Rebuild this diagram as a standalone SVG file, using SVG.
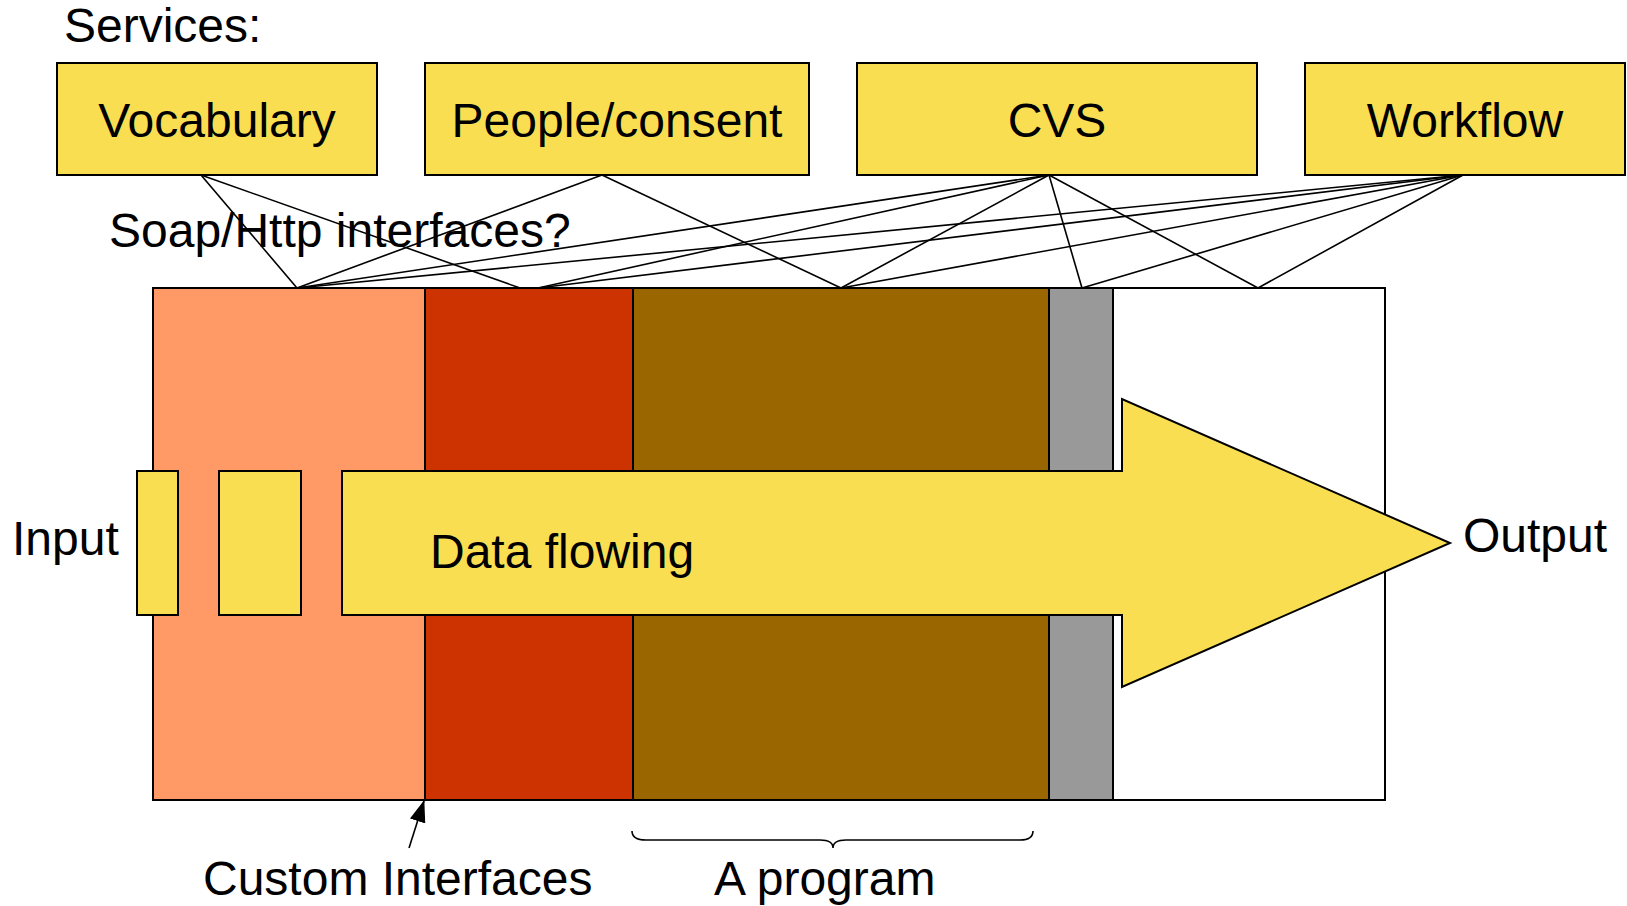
<svg xmlns="http://www.w3.org/2000/svg" width="1627" height="906" viewBox="0 0 1627 906">
<defs>
<style>
text { font-family: "Liberation Sans", Arial, sans-serif; font-size: 48px; fill: #000; }
.box { fill: #F9DE52; stroke: #000; stroke-width: 2; }
.sec { stroke: #000; stroke-width: 2; }
.conn { stroke: #000; stroke-width: 1.6; fill: none; }
.mid { text-anchor: middle; }
</style>
<marker id="ah" viewBox="0 0 22 16" refX="21" refY="8" markerWidth="22" markerHeight="16" markerUnits="userSpaceOnUse" orient="auto">
<path d="M0,0 L22,8 L0,16 z" fill="#000"/>
</marker>
</defs>
<rect width="1627" height="906" fill="#fff"/>

<text x="64" y="42">Services:</text>

<g id="vocabulary"><rect class="box" x="57" y="63" width="320" height="112"/><text class="mid" x="217" y="137">Vocabulary</text></g>
<g id="people"><rect class="box" x="425" y="63" width="384" height="112"/><text class="mid" x="617" y="137">People/consent</text></g>
<g id="cvs"><rect class="box" x="857" y="63" width="400" height="112"/><text class="mid" x="1057" y="137">CVS</text></g>
<g id="workflow"><rect class="box" x="1305" y="63" width="320" height="112"/><text class="mid" x="1465" y="137">Workflow</text></g>

<g id="sections">
<rect id="sec-orange" class="sec" x="153" y="288" width="272" height="512" fill="#FF9966"/>
<rect id="sec-red" class="sec" x="425" y="288" width="208" height="512" fill="#CC3300"/>
<rect id="sec-brown" class="sec" x="633" y="288" width="416" height="512" fill="#996600"/>
<rect id="sec-gray" class="sec" x="1049" y="288" width="64" height="512" fill="#999999"/>
<rect id="sec-white" class="sec" x="1113" y="288" width="272" height="512" fill="#FFFFFF"/>
</g>

<g id="connectors">
<line class="conn" x1="201" y1="175" x2="297" y2="288"/>
<line class="conn" x1="201" y1="175" x2="520" y2="288"/>
<line class="conn" x1="602" y1="175" x2="297" y2="288"/>
<line class="conn" x1="602" y1="175" x2="841" y2="288"/>
<line class="conn" x1="1049" y1="175" x2="297" y2="288"/>
<line class="conn" x1="1049" y1="175" x2="538" y2="288"/>
<line class="conn" x1="1049" y1="175" x2="841" y2="288"/>
<line class="conn" x1="1049" y1="175" x2="1082" y2="288"/>
<line class="conn" x1="1049" y1="175" x2="1258" y2="288"/>
<line class="conn" x1="1463" y1="175" x2="297" y2="288"/>
<line class="conn" x1="1463" y1="175" x2="538" y2="288"/>
<line class="conn" x1="1463" y1="175" x2="841" y2="288"/>
<line class="conn" x1="1463" y1="175" x2="1082" y2="288"/>
<line class="conn" x1="1463" y1="175" x2="1258" y2="288"/>
<line class="conn" x1="409" y1="848" x2="424" y2="801" marker-end="url(#ah)"/>
<path class="conn" d="M632,831 Q632,840 646,840 L820,840 Q833,840 833,848 Q833,840 846,840 L1020,840 Q1033,840 1033,831"/>
</g>

<text x="109" y="247">Soap/Http interfaces?</text>

<g id="input1"><rect class="box" x="137" y="471" width="41" height="144"/></g>
<g id="input2"><rect class="box" x="219" y="471" width="82" height="144"/></g>
<g id="data-arrow">
<path class="box" d="M342,471 L1122,471 L1122,399 L1450,543 L1122,687 L1122,615 L342,615 Z"/>
<text x="430" y="568">Data flowing</text>
</g>

<text x="12" y="555">Input</text>
<text x="1463" y="552">Output</text>
<text x="203" y="895">Custom Interfaces</text>
<text x="714" y="895">A program</text>
</svg>
